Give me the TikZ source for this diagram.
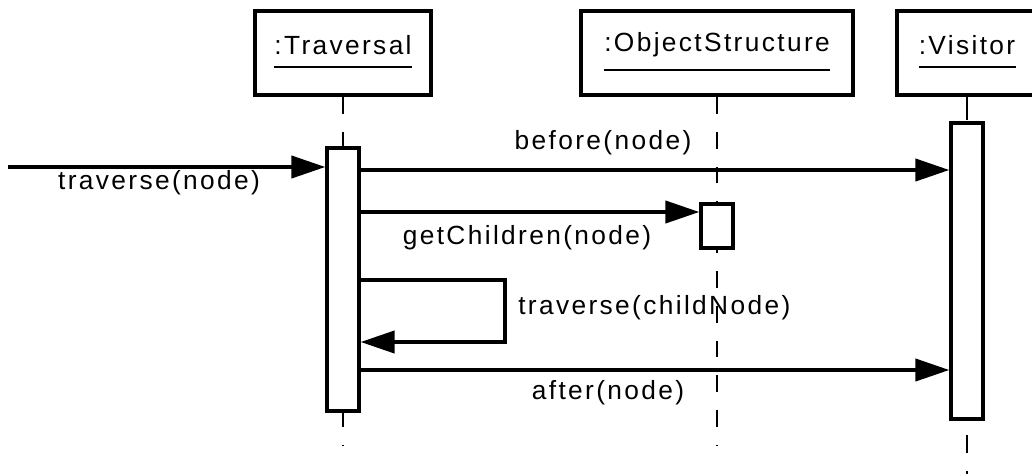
\documentclass[tikz,border=0pt]{standalone}
\usepackage{fontspec}
\newfontfamily\umlfont{Liberation Sans}[LetterSpace=9]
\usepackage{tikz}
\usetikzlibrary{arrows.meta,positioning,calc}

\begin{document}
\begin{tikzpicture}[x=0.025cm,y=-0.025cm,
		font=\umlfont\fontsize{18.7}{21}\selectfont,
		objbox/.style={draw,line width=0.1cm,minimum height=2.1cm,inner sep=0pt},
		act/.style={draw,fill=white,line width=0.1cm,minimum width=0.78cm,inner sep=0pt},
		lifeline/.style={line width=0.05cm,dash pattern=on 0.42cm off 0.45cm},
		msg/.style={line width=0.1cm,-{Triangle[length=0.85cm,width=0.55cm]}},
		lbl/.style={inner sep=0pt}]
		\useasboundingbox (0,0) rectangle (1032,475);
		% objects
		\node[objbox,minimum width=4.4cm] (trav) at (343,53) {};
		\node[objbox,minimum width=6.8cm] (objs) at (717,53) {};
		\node[objbox,minimum width=3.5cm] (visit) at (967,53) {};
		\node[lbl] (travname) at (343,45) {:Traversal};
		\node[lbl] (objsname) at (717,45) {:ObjectStructure};
		\node[lbl] (visitname) at (967,45) {:Visitor};
		\foreach \n in {travname,objsname,visitname}
			\draw[line width=0.05cm] ($(\n.south west)+(0,12)$) -- ($(\n.south east)+(0,12)$);
		% lifelines
		\coordinate (travend) at (343,446);
		\coordinate (objsend) at (717,446);
		\coordinate (visitend) at (967,475);
		\draw[lifeline] (trav.south) -- (travend);
		\draw[lifeline] (objs.south) -- (objsend);
		\draw[line width=0.05cm] (visit.south) -- (967,120);
		% activations
		\node[act,minimum height=6.55cm] (travact) at (343,279.5) {};
		\node[act,minimum height=1.1cm] (objsact) at (717,226) {};
		\node[act,minimum height=7.4cm] (visitact) at (967,271) {};
		\draw[lifeline,dash pattern=on 0pt off 0.35cm on 0.45cm off 0.45cm on 0.08cm off 1cm] (visitact.south) -- (visitend);
		% messages
		\coordinate (start) at (8,167);
		\draw[msg] (start) -- (travact.west |- start);
		\draw[msg] (travact.east |- {(0,170)}) -- (visitact.west |- {(0,170)});
		\draw[msg] (travact.east |- {(0,212)}) -- (objsact.west |- {(0,212)});
		\coordinate (loop) at (505,342);
		\draw[msg] (travact.east |- {(0,280)}) -| (loop) -- (travact.east |- loop);
		\draw[msg] (travact.east |- {(0,370)}) -- (visitact.west |- {(0,370)});
		% labels
		\node[lbl] (m1) at (159,183) {traverse(node)};
		\node[lbl] (m2) at (603,143) {before(node)};
		\node[lbl] (m3) at (527,238) {getChildren(node)};
		\node[lbl,anchor=west] (m4) at (518,308) {traverse(childNode)};
		\node[lbl] (m5) at (608,393) {after(node)};
\end{tikzpicture}
\end{document}
